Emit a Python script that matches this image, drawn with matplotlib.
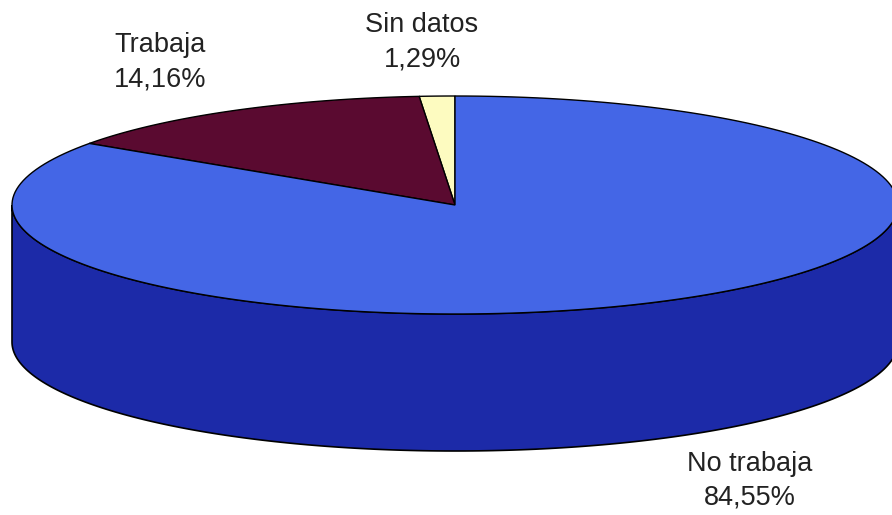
# 3D-style pie chart: share of people who work / don't work

import numpy as np
import matplotlib.pyplot as plt

# Data
labels = ['Sin datos', 'Trabaja', 'No trabaja']
values = [1.29, 14.16, 84.55]
pct_text = ['1,29%', '14,16%', '84,55%']
top_colors = ['#fdfbc0', '#5a0a30', '#4466e6']
side_colors = ['#d8d690', '#3a0620', '#1c2aa8']

# Geometry of the ellipse in pixel coords (y grows downward)
cx, cy = 455, 205
rx, ry = 443, 109
depth = 137
start = 90.0  # first slice starts at 12 o'clock, goes counter clockwise

fig = plt.figure(figsize=(8.92, 5.15), dpi=100)
ax = fig.add_axes([0, 0, 1, 1])
ax.set_xlim(0, 892)
ax.set_ylim(515, 0)
ax.axis('off')


def ellipse_pts(t0, t1, yoff=0, n=200):
    t = np.radians(np.linspace(t0, t1, n))
    return cx + rx * np.cos(t), cy + yoff - ry * np.sin(t)


# angles of every slice
bounds = start + np.concatenate([[0], np.cumsum(values)]) / sum(values) * 360

# side wall: only the front half (180..360 deg) is visible
for i in range(len(values)):
    a0, a1 = bounds[i], bounds[i + 1]
    for k in (0, 360):
        lo = max(a0, 180 + k)
        hi = min(a1, 360 + k)
        if hi > lo:
            xt, yt = ellipse_pts(lo, hi)
            xb, yb = ellipse_pts(hi, lo, yoff=depth)
            ax.fill(np.concatenate([xt, xb]), np.concatenate([yt, yb]),
                    color=side_colors[i], ec='black', lw=1.2, zorder=1)

# top face
for i in range(len(values)):
    xs, ys = ellipse_pts(bounds[i], bounds[i + 1])
    ax.fill(np.concatenate([[cx], xs]), np.concatenate([[cy], ys]),
            facecolor=top_colors[i], edgecolor='black', lw=1.0, zorder=2)

# labels
label_pos = [(422, 42), (160, 62), (750, 481)]
for lab, pct, (x, y) in zip(labels, pct_text, label_pos):
    ax.text(x, y, lab + '\n' + pct, ha='center', va='center', fontsize=19.5,
            family='Liberation Sans', color='#222222', linespacing=1.4)

fig.savefig('out.png', dpi=100)
